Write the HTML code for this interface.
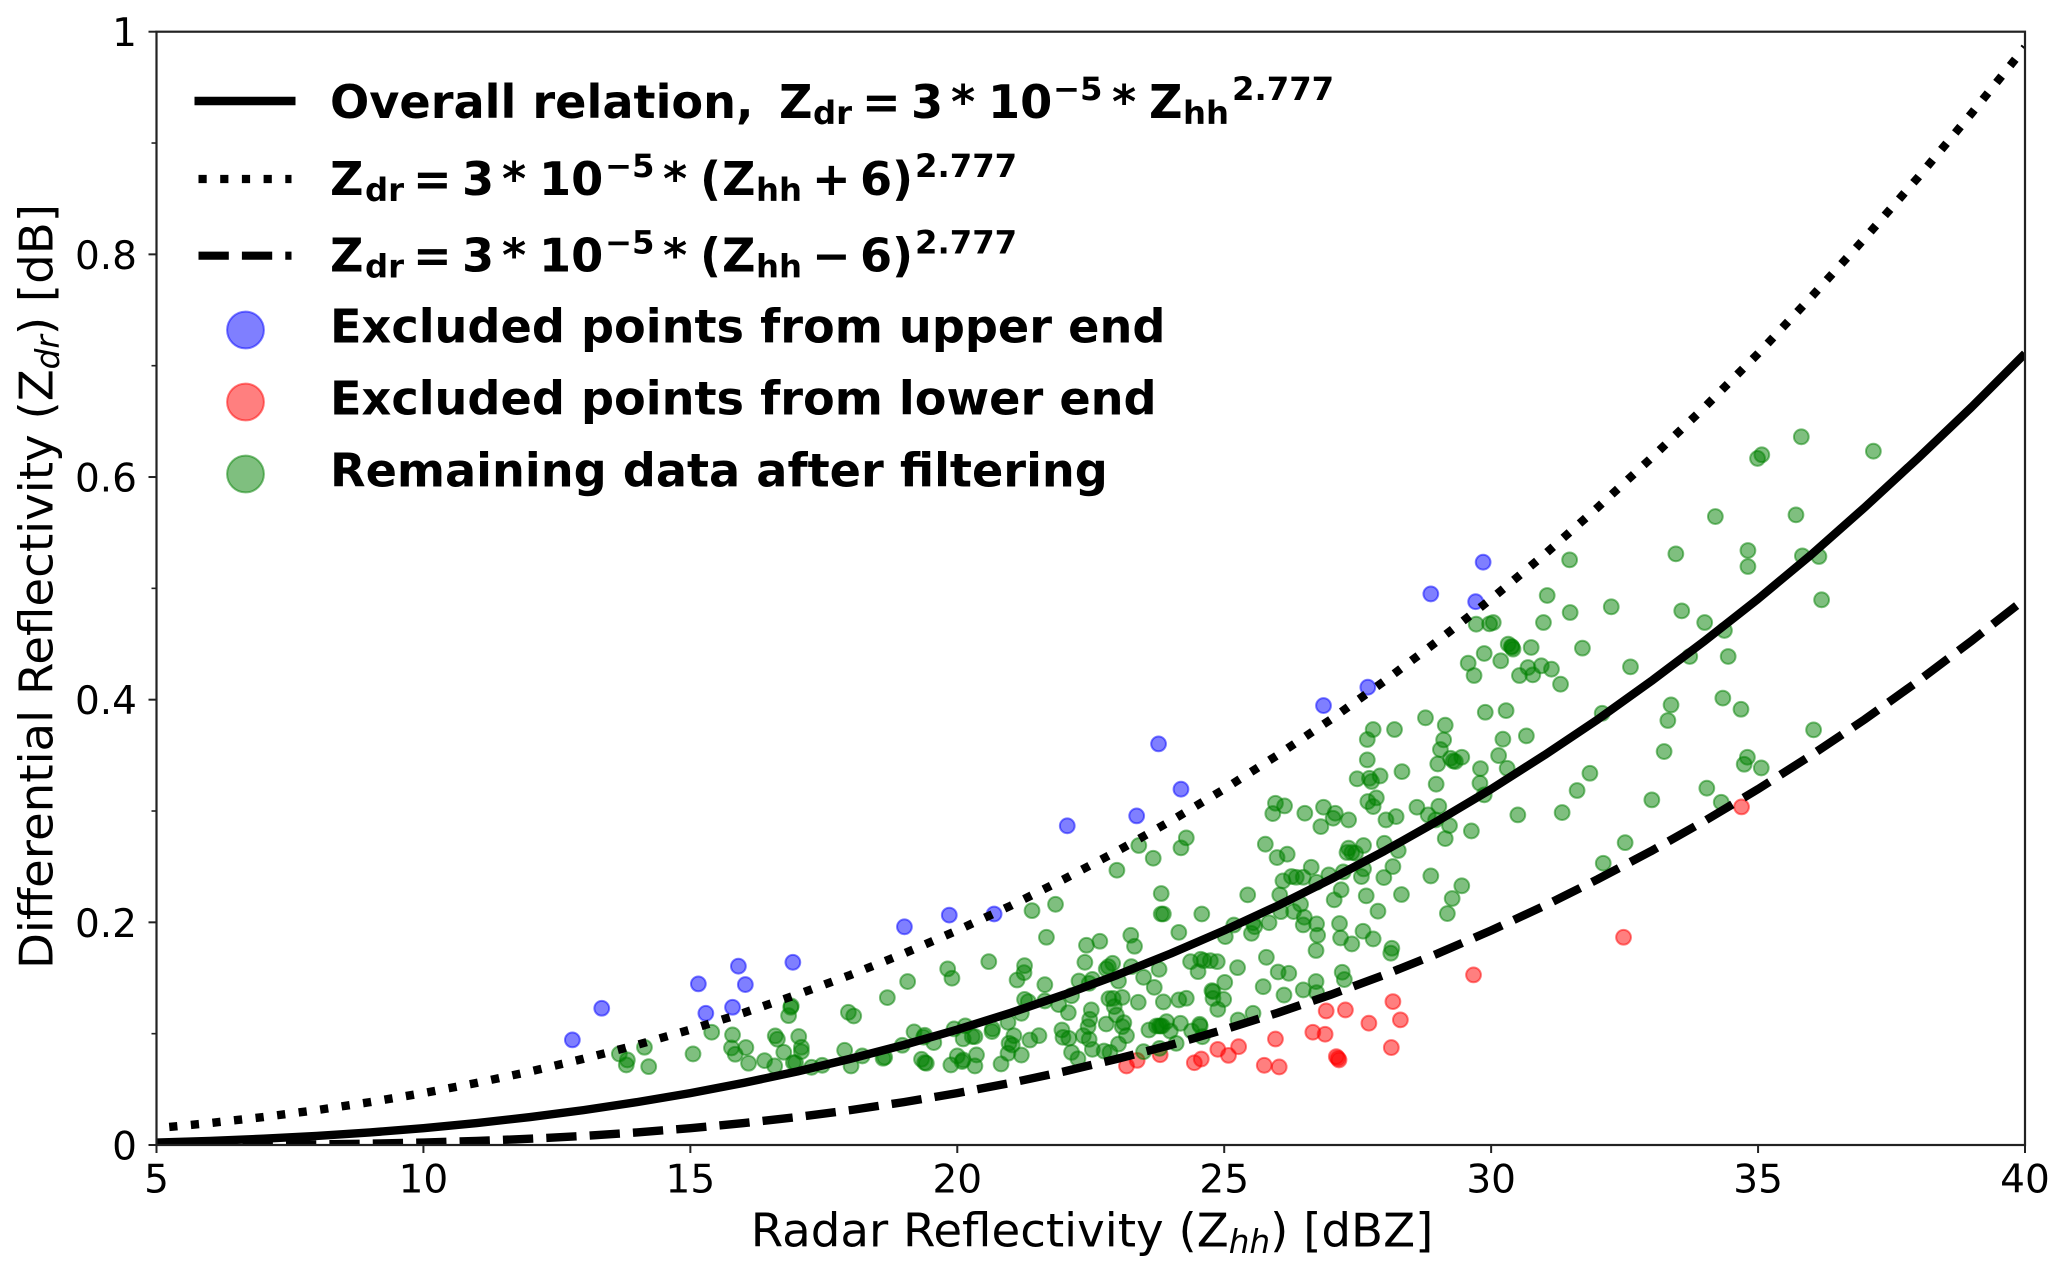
<!DOCTYPE html>
<html lang="en">
<head>
<meta charset="utf-8">
<title>Differential Reflectivity vs Radar Reflectivity</title>
<style>
html,body{margin:0;padding:0;background:#fff;width:2067px;height:1275px;overflow:hidden}
svg{display:block;font-family:"DejaVu Sans","Liberation Sans",sans-serif;fill:#000}
.leg{font-weight:bold;font-size:46.2px}
.ss{font-size:32.3px}
</style>
</head>
<body>
<svg id="chart" xmlns="http://www.w3.org/2000/svg" width="2067" height="1275" viewBox="0 0 2067 1275">
<defs><clipPath id="plot-clip"><rect x="156.5" y="31.7" width="1868.5" height="1113.3"/></clipPath></defs>
<rect x="156.5" y="31.7" width="1868.5" height="1113.3" fill="#fff"/>
<g id="scatter" clip-path="url(#plot-clip)"></g>
<g id="curves" clip-path="url(#plot-clip)" fill="none" stroke="#000" stroke-width="8.4"></g>
<g id="axes"></g>
<rect x="156.5" y="31.7" width="1868.5" height="1113.3" fill="none" stroke="#222" stroke-width="2.2"/>

<text x="1092" y="1246.5" font-size="46.7" text-anchor="middle">Radar Reflectivity (Z<tspan dy="6.5" font-size="32.7" font-style="italic">hh</tspan><tspan dy="-6.5">) [dBZ]</tspan></text>
<text transform="translate(52.5 586.5) rotate(-90)" font-size="46.7" text-anchor="middle">Differential Reflectivity (Z<tspan dy="6.5" font-size="32.7" font-style="italic">dr</tspan><tspan dy="-6.5">) [dB]</tspan></text>

<g>
  <g>
    <line x1="194.5" x2="295.5" y1="101" y2="101" stroke="#000" stroke-width="8.6"/>
    <text class="leg" y="118"><tspan x="330">Overall relation,</tspan><tspan x="779">Z</tspan><tspan class="ss" x="813" y="124">dr</tspan><tspan x="862" y="118">=</tspan><tspan x="911">3</tspan><tspan x="951">*</tspan><tspan x="988">10</tspan><tspan class="ss" x="1053" y="100">−5</tspan><tspan x="1112" y="118">*</tspan><tspan x="1149">Z</tspan><tspan class="ss" x="1183" y="124">hh</tspan><tspan class="ss" x="1232" y="100">2.777</tspan></text>
  </g>
  <g>
    <line x1="198.5" x2="291.5" y1="179" y2="179" stroke="#000" stroke-width="8.2" stroke-dasharray="8.2 13.5"/>
    <text class="leg" y="195"><tspan x="330">Z</tspan><tspan class="ss" x="365" y="201">dr</tspan><tspan x="413" y="195">=</tspan><tspan x="462">3</tspan><tspan x="502">*</tspan><tspan x="539">10</tspan><tspan class="ss" x="605" y="177">−5</tspan><tspan x="663" y="195">*</tspan><tspan x="700">(</tspan><tspan x="722">Z</tspan><tspan class="ss" x="756" y="201">hh</tspan><tspan x="812" y="195">+</tspan><tspan x="860">6</tspan><tspan x="892">)</tspan><tspan class="ss" x="915" y="177">2.777</tspan></text>
  </g>
  <g>
    <line x1="198.5" x2="291.5" y1="255.7" y2="255.7" stroke="#000" stroke-width="8.2" stroke-dasharray="30.3 13.1"/>
    <text class="leg" y="271.7"><tspan x="330">Z</tspan><tspan class="ss" x="365" y="277.7">dr</tspan><tspan x="413" y="271.7">=</tspan><tspan x="462">3</tspan><tspan x="502">*</tspan><tspan x="539">10</tspan><tspan class="ss" x="605" y="253.7">−5</tspan><tspan x="663" y="271.7">*</tspan><tspan x="700">(</tspan><tspan x="722">Z</tspan><tspan class="ss" x="756" y="277.7">hh</tspan><tspan x="812" y="271.7">−</tspan><tspan x="860">6</tspan><tspan x="892">)</tspan><tspan class="ss" x="915" y="253.7">2.777</tspan></text>
  </g>
  <g>
    <circle cx="245.5" cy="330" r="18.4" fill="#0000ff" fill-opacity=".5" stroke="#0000ff" stroke-opacity=".5" stroke-width="2"/>
    <text class="leg" x="330" y="342.5">Excluded points from upper end</text>
  </g>
  <g>
    <circle cx="245.5" cy="402" r="18.4" fill="#ff0000" fill-opacity=".5" stroke="#ff0000" stroke-opacity=".5" stroke-width="2"/>
    <text class="leg" x="330" y="414.5">Excluded points from lower end</text>
  </g>
  <g>
    <circle cx="245.5" cy="474" r="18.4" fill="#008000" fill-opacity=".5" stroke="#008000" stroke-opacity=".5" stroke-width="2"/>
    <text class="leg" x="330" y="486.5">Remaining data after filtering</text>
  </g>
</g>
</svg>
<script>
var xTickValues = [5,10,15,20,25,30,35,40];
var xTickLabels = ["5","10","15","20","25","30","35","40"];
var yTickValues = [0,0.2,0.4,0.6,0.8,1];
var yTickLabels = ["0","0.2","0.4","0.6","0.8","1"];
var yMinorTickValues = [0.1,0.3,0.5,0.7,0.9];

var lineZhh = [5,6,7,8,9,10,11,12,13,14,15,16,17,18,19,20,21,22,23,24,25,26,27,28,29,30,31,32,33,34,35,36,37,38,39,40];
var overallZdr = [.00221,.00366,.00562,.00814,.01129,.01512,.01971,.0251,.03133,.03851,.04662,.0558,.06603,.07745,.08991,.10366,.11872,.13507,.15278,.17199,.19273,.2149,.2388,.26407,.29111,.31967,.35024,.38234,.4167,.45284,.49049,.53042,.57287,.61709,.66283,.71085];
var upperBoundZdr = [.01512,.01971,.0251,.03133,.03851,.04662,.0558,.06603,.07745,.08991,.10366,.11872,.13507,.15278,.17199,.19273,.2149,.2388,.26407,.29111,.31967,.35024,.38234,.4167,.45284,.49049,.53042,.57287,.61709,.66283,.71085,.7619,.8145,.8693,.9267,.986];
var lowerBoundZdr = [0,.00003,.00017,.00053,.00119,.00221,.00366,.00562,.00814,.01129,.01512,.01971,.0251,.03133,.03851,.04662,.0558,.06603,.07745,.08991,.10366,.11872,.13507,.15278,.17199,.19273,.2149,.2388,.26407,.29111,.31967,.35024,.38234,.4167,.45284,.49049];

var upperExcludedZhh = [12.79,13.34,15.15,15.90,16.03,15.29,15.79,16.92,19.01,19.85,20.69,22.06,23.36,23.77,24.19,26.86,27.69,28.87,29.71,29.85];
var upperExcludedZdr = [.0944,.1228,.1447,.1606,.1441,.1183,.1237,.1641,.1960,.2065,.2075,.2867,.2956,.3603,.3196,.3947,.4112,.495,.488,.5235];

var lowerExcludedZhh = [23.17,23.37,23.80,24.44,24.57,24.88,25.08,25.27,25.75,26.03,25.96,26.91,27.27,26.66,26.89,27.10,27.15,27.13,27.71,28.16,28.30,28.13,29.67,32.48,34.69];
var lowerExcludedZdr = [.0710,.0760,.0811,.0739,.0772,.0859,.0805,.0883,.0716,.0701,.0952,.1204,.1213,.1013,.0995,.0794,.0764,.0779,.1094,.1288,.1124,.0875,.1528,.1866,.3037];

var remainingZhh = [
13.67,13.82,13.80,14.14,14.22,15.05,15.40,15.79,15.77,15.84,16.04,16.09,16.39,16.59,16.63,16.58,16.75,16.84,16.89,16.88,
17.03,17.08,17.08,16.93,16.97,17.27,17.47,17.96,18.06,17.89,18.01,18.22,18.61,18.64,18.69,18.97,19.07,19.19,19.39,19.37,
19.56,19.33,19.39,19.42,19.82,19.90,19.94,20.15,20.11,20.28,20.33,20.00,19.88,20.09,20.11,20.36,20.33,20.59,20.66,20.65,
20.82,20.97,20.95,
21.40,21.84,21.67,22.42,22.67,23.25,23.32,23.82,23.86,24.58,24.15,25.18,25.02,25.51,25.57,25.54,25.84,26.06,
22.39,21.26,21.25,21.12,21.64,22.28,22.47,22.53,22.14,21.90,21.64,21.26,21.33,21.20,22.08,22.79,22.83,22.91,23.02,23.26,
23.49,23.69,23.78,23.09,22.92,22.84,22.94,23.39,23.86,24.15,24.29,22.51,22.48,22.45,22.98,22.79,23.12,23.09,23.17,23.02,
21.96,21.98,22.09,22.36,22.47,22.53,22.75,22.86,22.14,22.26,21.53,21.36,21.06,21.03,21.20,20.95,
23.59,23.73,23.78,23.81,23.84,23.92,24.18,23.99,23.49,23.79,24.10,24.39,24.54,24.55,24.59,24.77,24.79,25.01,24.79,24.99,
24.88,24.37,24.51,24.56,24.62,24.74,24.87,25.25,25.79,26.01,26.21,25.73,26.12,25.54,25.26,
22.99,23.40,23.67,24.29,24.19,23.82,25.44,25.96,26.13,25.91,25.77,25.99,26.18,26.10,26.04,
27.79,27.68,28.19,28.77,29.14,29.11,29.05,29.00,29.24,29.33,29.29,29.45,29.89,30.28,30.22,30.66,
27.68,27.49,27.72,27.76,27.92,28.33,28.97,29.80,30.14,30.30,29.79,29.87,27.69,27.85,27.79,28.61,29.02,28.82,28.96,29.22,
29.63,29.14,28.03,28.22,26.51,26.86,27.08,27.04,27.33,26.81,27.61,28.00,28.26,27.33,27.30,27.39,27.46,30.50,31.33,31.61,31.85,
27.61,27.57,26.63,26.96,27.23,26.26,26.35,26.48,26.73,28.16,27.99,28.87,29.45,29.27,29.18,28.32,27.66,27.19,27.06,27.88,
26.43,26.30,26.50,26.48,26.73,26.75,26.72,27.16,27.18,27.39,27.60,27.79,28.14,28.12,27.21,27.25,26.72,26.48,26.73,
31.47,33.46,31.05,31.48,32.25,30.98,33.57,34.00,34.37,34.44,33.72,29.72,29.97,30.04,30.32,30.38,30.41,30.39,30.75,31.71,
29.87,29.57,29.68,30.18,30.69,30.94,31.13,30.53,30.78,31.30,32.61,33.37,34.34,
35.81,37.16,35.07,34.99,34.20,35.71,34.81,34.81,35.83,36.14,36.19,34.68,33.31,32.08,36.04,33.24,34.80,34.74,35.06,34.04,
34.31,33.01,32.51,32.10
];
var remainingZdr = [
.0818,.0764,.0719,.0878,.0704,.0818,.1013,.0989,.0872,.0815,.0875,.0734,.0758,.0980,.0950,.0710,.0833,.1162,.1249,.1237,
.0974,.0878,.0839,.0740,.0740,.0698,.0716,.1192,.1159,.0851,.0710,.0800,.0779,.0788,.1324,.0896,.1468,.1016,.0986,.0968,
.0920,.0770,.0740,.0734,.1582,.1498,.1043,.1070,.0953,.0974,.0974,.0800,.0719,.0749,.0764,.0809,.0710,.1647,.1043,.1019,
.0728,.0914,.0824,
.2105,.2162,.1866,.1794,.1830,.1884,.1785,.2075,.2075,.2075,.1910,.1976,.1872,.1901,.1961,.1997,.1997,.2096,
.1641,.1611,.1548,.1482,.1440,.1473,.1452,.1488,.1341,.1261,.1294,.1308,.1288,.1183,.1189,.1581,.1602,.1632,.1473,.1602,
.1506,.1416,.1578,.1326,.1317,.1314,.1243,.1282,.1285,.1303,.1318,.1213,.1129,.1063,.1168,.1087,.1099,.1063,.0982,.0907,
.1033,.0967,.0958,.0982,.0949,.0859,.0844,.0832,.0832,.0775,.0982,.0943,.0982,.0898,.0808,.1102,
.1033,.1069,.1069,.1069,.1069,.1108,.1093,.1024,.0838,.0868,.0913,.1024,.1084,.1069,.0973,.1386,.1377,.1461,.1317,.1308,
.1219,.1647,.1557,.1668,.1656,.1656,.1647,.1593,.1686,.1554,.1542,.1422,.1347,.1183,.1123,
.2468,.2690,.2576,.2759,.2669,.2259,.2247,.3070,.3046,.2977,.2702,.2582,.2612,.2372,.2247,
.3732,.3642,.3732,.3837,.3771,.3639,.3552,.3423,.3474,.3444,.3450,.3483,.3887,.3902,.3645,.3675,
.3459,.3289,.3294,.3265,.3315,.3354,.3241,.3381,.3498,.3384,.3250,.3145,.3085,.3118,.3040,.3034,.3043,.2965,.2920,.2869,
.2821,.2752,.2920,.2950,.2980,.3034,.2980,.2935,.2920,.2860,.2690,.2710,.2645,.2666,.2627,.2627,.2621,.2965,.2986,.3184,.3339,
.2480,.2411,.2495,.2426,.2453,.2411,.2405,.2405,.2360,.2501,.2402,.2417,.2328,.2214,.2079,.2250,.2238,.2292,.2202,.2100,
.2163,.2097,.2046,.1977,.1986,.1884,.1747,.1989,.1860,.1806,.1920,.1851,.1767,.1723,.1552,.1486,.1468,.1393,.1369,
.5256,.5310,.4936,.4783,.4834,.4693,.4798,.4693,.4622,.4388,.4388,.4678,.4681,.4693,.4499,.4478,.4454,.4472,.4469,.4463,
.4415,.4328,.4217,.4349,.4289,.4304,.4274,.4217,.4223,.4139,.4295,.3953,.4014,
.6361,.6232,.6200,.6167,.5645,.5660,.5340,.5196,.5292,.5286,.4897,.3914,.3813,.3878,.3729,.3534,.3483,.3420,.3387,.3205,
.3079,.3100,.2716,.2531
];

var SVG_NS = "http://www.w3.org/2000/svg";
var plotLeft = 156.5, plotRight = 2025, plotTop = 31.7, plotBottom = 1145;
function xScale(v){ return plotLeft + (v - 5) / 35 * (plotRight - plotLeft); }
function yScale(v){ return plotBottom - v * (plotBottom - plotTop); }
function make(tag, attrs, parent){
  var el = document.createElementNS(SVG_NS, tag);
  for (var k in attrs) el.setAttribute(k, attrs[k]);
  parent.appendChild(el);
  return el;
}

var axes = document.getElementById("axes");
xTickValues.forEach(function(v, i){
  var t = make("line", {x1:xScale(v), x2:xScale(v), y1:plotBottom, y2:plotBottom + 8, stroke:"#222", "stroke-width":2}, axes);
  
  
  var l = make("text", {x:xScale(v), y:1192.5, "font-size":39, "text-anchor":"middle"}, axes);
  l.textContent = xTickLabels[i];
  
  
});
yTickValues.forEach(function(v, i){
  var t = make("line", {x1:plotLeft - 8, x2:plotLeft, y1:yScale(v), y2:yScale(v), stroke:"#222", "stroke-width":2}, axes);
  
  
  var l = make("text", {x:137, y:yScale(v) + 14.5, "font-size":39, "text-anchor":"end"}, axes);
  l.textContent = yTickLabels[i];
  
  
});
yMinorTickValues.forEach(function(v){
  var t = make("line", {x1:plotLeft - 5, x2:plotLeft, y1:yScale(v), y2:yScale(v), stroke:"#222", "stroke-width":1.6}, axes);
  
  
});

var scatter = document.getElementById("scatter");
function drawPoints(xs, ys, color, group){
  var g = make("g", {}, scatter);
  
  
  xs.forEach(function(x, i){
    var c = make("circle", {cx:xScale(x), cy:yScale(ys[i]), r:7.4, fill:color, "fill-opacity":0.5, stroke:color, "stroke-opacity":0.5, "stroke-width":2}, g);
    
    
  });
}
drawPoints(upperExcludedZhh, upperExcludedZdr, "#0000ff", "upper-excluded-points");
drawPoints(lowerExcludedZhh, lowerExcludedZdr, "#ff0000", "lower-excluded-points");
drawPoints(remainingZhh, remainingZdr, "#008000", "remaining-points");

var curves = document.getElementById("curves");
function linePath(xs, ys){
  return xs.map(function(x, i){ return (i ? "L" : "M") + xScale(x).toFixed(2) + " " + yScale(ys[i]).toFixed(2); }).join("");
}
var overallLine = make("path", {d:linePath(lineZhh, overallZdr), "stroke-linejoin":"round"}, curves);


var upperLine = make("path", {d:linePath(lineZhh, upperBoundZdr), "stroke-dasharray":"8.2 13.5", "stroke-dashoffset":8.9}, curves);


var lowerLine = make("path", {d:linePath(lineZhh, lowerBoundZdr), "stroke-dasharray":"30.3 13.1", "stroke-dashoffset":0.7}, curves);


</script>
</body>
</html>
